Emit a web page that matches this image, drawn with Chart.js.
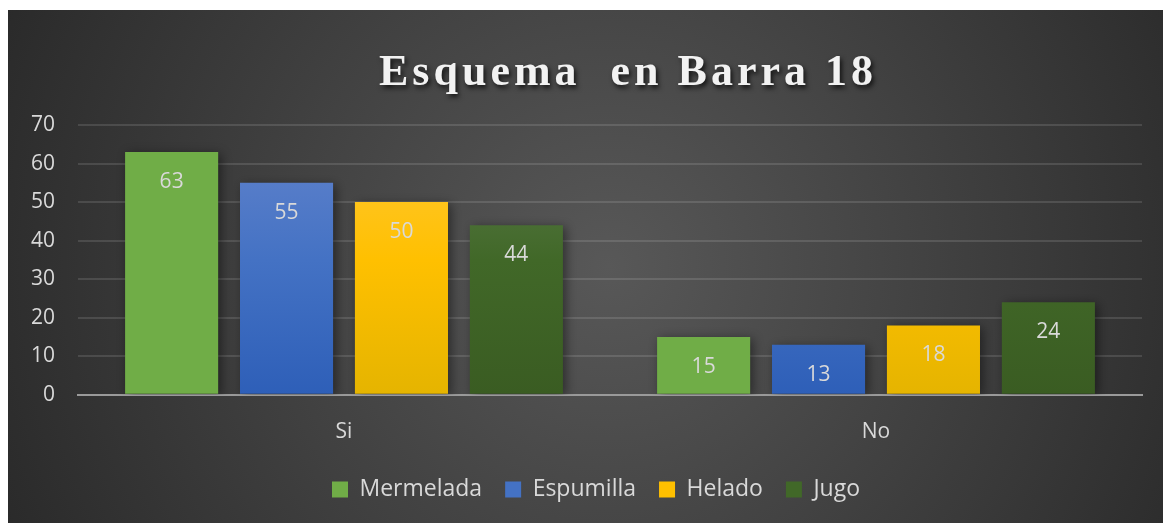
<!DOCTYPE html>
<html>
<head>
<meta charset="utf-8">
<script src="https://cdn.jsdelivr.net/npm/chart.js@4.4.0/dist/chart.umd.min.js"></script>
<style>
  html, body { margin: 0; padding: 0; background: #ffffff; }
  #wrap { position: absolute; left: 8px; top: 10px; width: 1155px; height: 513px; }
</style>
</head>
<body>
<div id="wrap"><canvas id="grafico"></canvas></div>
<script>
// Datos del gráfico
const categorias = ['Si', 'No'];
const mermelada = [63, 15];
const espumilla = [55, 13];
const helado = [50, 18];
const jugo = [44, 24];
const titulo = 'Esquema  en Barra 18';

const textoClaro = '#d9d9d9';
const fuente = '"Open Sans", sans-serif';

// Degradado vertical para cada barra
function degradado(arriba, medio, abajo) {
    return function(context) {
        const chart = context.chart;
        const area = chart.chartArea;
        if (!area) return medio;
        const el = context.element;
        const top = el && el.y !== undefined ? Math.min(el.y, el.base) : area.top;
        const bottom = el && el.base !== undefined ? Math.max(el.y, el.base) : area.bottom;
        if (!isFinite(top) || !isFinite(bottom) || bottom - top < 1) return medio;
        const g = chart.ctx.createLinearGradient(0, top, 0, bottom);
        g.addColorStop(0, arriba);
        g.addColorStop(0.5, medio);
        g.addColorStop(1, abajo);
        return g;
    };
}

// Fondo oscuro con degradado radial
const fondo = {
    id: 'fondo',
    beforeDraw(chart) {
        const ctx = chart.ctx;
        const w = chart.width, h = chart.height;
        ctx.save();
        const g = ctx.createRadialGradient(w * 0.52, h * 0.5, 0, w * 0.52, h * 0.5, w * 0.62);
        g.addColorStop(0, '#585858');
        g.addColorStop(1, '#262626');
        ctx.fillStyle = g;
        ctx.fillRect(0, 0, w, h);
        ctx.restore();
    }
};

// Título con espaciado y sombra
const tituloPlugin = {
    id: 'tituloPlugin',
    afterDraw(chart) {
        const ctx = chart.ctx;
        ctx.save();
        ctx.font = 'bold 44px "Liberation Serif", serif';
        ctx.letterSpacing = '4px';
        ctx.textAlign = 'center';
        ctx.textBaseline = 'middle';
        ctx.shadowColor = 'rgba(0,0,0,0.75)';
        ctx.shadowBlur = 5;
        ctx.shadowOffsetX = 2;
        ctx.shadowOffsetY = 3;
        ctx.fillStyle = '#f2f2f2';
        ctx.fillText(titulo, 620, 64);
        ctx.restore();
    }
};

// Desplazar la leyenda un poco a la derecha
const moverLeyenda = {
    id: 'moverLeyenda',
    afterLayout(chart) {
        if (chart.legend) {
            chart.legend.left += 15;
            chart.legend.right += 15;
        }
    }
};

// Sombra de las barras
const sombra = {
    id: 'sombra',
    beforeDatasetsDraw(chart) {
        const ctx = chart.ctx;
        ctx.save();
        ctx.shadowColor = 'rgba(0,0,0,0.45)';
        ctx.shadowBlur = 10;
        ctx.shadowOffsetX = 3;
        ctx.shadowOffsetY = 2;
    },
    afterDatasetsDraw(chart) {
        chart.ctx.restore();
    }
};

// Etiquetas de valor dentro de cada barra
const etiquetas = {
    id: 'etiquetas',
    afterDatasetsDraw(chart) {
        const ctx = chart.ctx;
        ctx.save();
        ctx.font = '21px ' + fuente;
        ctx.fillStyle = textoClaro;
        ctx.textAlign = 'center';
        ctx.textBaseline = 'middle';
        chart.data.datasets.forEach((ds, i) => {
            chart.getDatasetMeta(i).data.forEach((bar, j) => {
                ctx.fillText(ds.data[j], bar.x, bar.y + 30);
            });
        });
        ctx.restore();
    }
};

const barra = { categoryPercentage: 0.864, barPercentage: 0.81 };

new Chart(document.getElementById('grafico'), {
    type: 'bar',
    data: {
        labels: categorias,
        datasets: [
            { label: 'Mermelada', data: mermelada, backgroundColor: '#70ad47', ...barra },
            { label: 'Espumilla', data: espumilla, backgroundColor: degradado('#6384cc', '#4472c4', '#2e5fb8'), ...barra },
            { label: 'Helado', data: helado, backgroundColor: degradado('#ffc83c', '#ffc000', '#e5b400'), ...barra },
            { label: 'Jugo', data: jugo, backgroundColor: degradado('#5e7d50', '#416828', '#3a5c22'), ...barra }
        ]
    },
    options: {
        responsive: true,
        maintainAspectRatio: false,
        animation: false,
        layout: { padding: { top: 115, right: 21, left: 12, bottom: 12 } },
        plugins: {
            title: { display: false },
            tooltip: { enabled: false },
            legend: {
                position: 'bottom',
                labels: {
                    color: textoClaro,
                    font: { size: 23, family: fuente },
                    boxWidth: 16,
                    boxHeight: 16,
                    padding: 23,
                    generateLabels(chart) {
                        const solidos = ['#70ad47', '#4472c4', '#ffc000', '#416828'];
                        return chart.data.datasets.map((ds, i) => ({
                            text: ds.label,
                            fillStyle: solidos[i],
                            strokeStyle: solidos[i],
                            lineWidth: 0,
                            fontColor: textoClaro,
                            datasetIndex: i
                        }));
                    }
                }
            }
        },
        scales: {
            x: {
                grid: { display: false },
                border: { color: '#9a9a9a', width: 2 },
                afterFit(scale) { scale.height -= 7; },
                ticks: { color: textoClaro, font: { size: 21, family: fuente }, padding: 17 }
            },
            y: {
                min: 0,
                max: 70,
                afterFit(scale) { scale.width = 58; },
                ticks: { stepSize: 10, color: textoClaro, font: { size: 21, family: fuente }, padding: 23 },
                grid: { color: 'rgba(255,255,255,0.12)', lineWidth: 2, drawTicks: false },
                border: { display: false }
            }
        }
    },
    plugins: [fondo, moverLeyenda, sombra, etiquetas, tituloPlugin]
});
</script>
</body>
</html>
